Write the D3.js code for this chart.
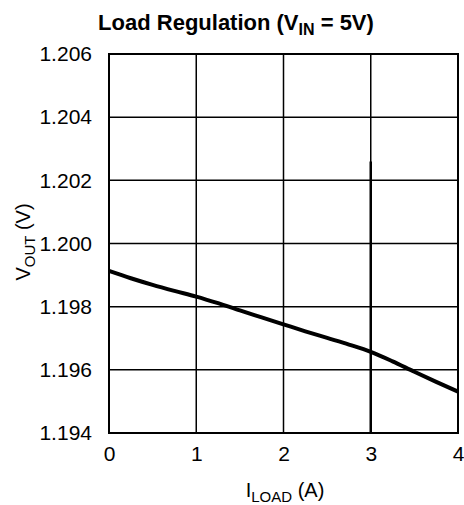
<!DOCTYPE html>
<html>
<head>
<meta charset="utf-8">
<script src="https://cdn.jsdelivr.net/npm/d3@7"></script>
<style>
  body { margin: 0; background: #fff; }
  svg text { font-family: "Liberation Sans", Arial, Helvetica, sans-serif; fill: #000; }
</style>
</head>
<body>
<script>
// Load regulation curve
var loadCurrent = [0, 0.25, 0.5, 0.75, 1, 1.25, 1.5, 1.75, 2, 2.25, 2.5, 2.75, 3, 3.25, 3.5, 3.75, 4];
var outputVoltage = [1.19913, 1.19890, 1.19869, 1.19850, 1.19832, 1.19811, 1.19788, 1.19766, 1.19744,
                     1.19722, 1.19701, 1.19680, 1.19657, 1.19627, 1.19594, 1.19562, 1.19531];
var xTicks = [0, 1, 2, 3, 4];
var yTicks = [1.194, 1.196, 1.198, 1.200, 1.202, 1.204, 1.206];

var margin = { top: 54, right: 6, bottom: 72, left: 109 },
    width = 464 - margin.left - margin.right,
    height = 505 - margin.top - margin.bottom;

var svg = d3.select("body").append("svg")
    .attr("width", 464)
    .attr("height", 505);

var g = svg.append("g")
    .attr("transform", "translate(" + margin.left + "," + margin.top + ")");

var x = d3.scaleLinear().domain([0, 4]).range([0, width]);
var y = d3.scaleLinear().domain([1.194, 1.206]).range([height, 0]);

// grid
g.append("g")
    .selectAll("line")
    .data(xTicks.slice(1, -1))
    .enter()
    .append("line")
    .attr("x1", function (d) { return x(d); })
    .attr("x2", function (d) { return x(d); })
    .attr("y1", 0)
    .attr("y2", height)
    .attr("stroke", "#000")
    .attr("stroke-width", 1.5);

g.append("g")
    .selectAll("line")
    .data(yTicks.slice(1, -1))
    .enter()
    .append("line")
    .attr("x1", 0)
    .attr("x2", width)
    .attr("y1", function (d) { return y(d); })
    .attr("y2", function (d) { return y(d); })
    .attr("stroke", "#000")
    .attr("stroke-width", 1.5);

// the 3A gridline is drawn heavier below ~1.2026 in the original
g.append("line")
    .attr("x1", x(3)).attr("x2", x(3))
    .attr("y1", y(1.2026)).attr("y2", height)
    .attr("stroke", "#000")
    .attr("stroke-width", 2.5);

// frame
g.append("rect")
    .attr("width", width)
    .attr("height", height)
    .attr("fill", "none")
    .attr("stroke", "#000")
    .attr("stroke-width", 2);

// axes (labels only, frame is drawn above)
var xAxis = g.append("g")
    .attr("transform", "translate(0," + height + ")")
    .call(d3.axisBottom(x).tickValues(xTicks).tickSize(0).tickPadding(13).tickFormat(d3.format("d")));
xAxis.select(".domain").remove();
xAxis.selectAll("text").style("font-size", "21px");

var yAxis = g.append("g")
    .call(d3.axisLeft(y).tickValues(yTicks).tickSize(0).tickPadding(17).tickFormat(d3.format(".3f")));
yAxis.select(".domain").remove();
yAxis.selectAll("text").style("font-size", "21px");

// curve
var line = d3.line()
    .x(function (d, i) { return x(loadCurrent[i]); })
    .y(function (d) { return y(d); })
    .curve(d3.curveMonotoneX);

g.append("path")
    .datum(outputVoltage)
    .attr("fill", "none")
    .attr("stroke", "#000")
    .attr("stroke-width", 4)
    .attr("d", line);

// title
var title = svg.append("text")
    .attr("x", 236)
    .attr("y", 30)
    .attr("text-anchor", "middle")
    .style("font-size", "22px")
    .style("font-weight", "bold");
title.append("tspan").text("Load Regulation (V");
title.append("tspan").attr("dy", 5).style("font-size", "16px").text("IN");
title.append("tspan").attr("dy", -5).text(" = 5V)");

// x label
var xLabel = svg.append("text")
    .attr("x", 285)
    .attr("y", 497)
    .attr("text-anchor", "middle")
    .style("font-size", "20px");
xLabel.append("tspan").text("I");
xLabel.append("tspan").attr("dy", 5).style("font-size", "15px").text("LOAD");
xLabel.append("tspan").attr("dy", -5).text(" (A)");

// y label
var yLabel = svg.append("text")
    .attr("transform", "translate(30,242) rotate(-90)")
    .attr("text-anchor", "middle")
    .style("font-size", "20px");
yLabel.append("tspan").text("V");
yLabel.append("tspan").attr("dy", 5).style("font-size", "15px").text("OUT");
yLabel.append("tspan").attr("dy", -5).text(" (V)");
</script>
</body>
</html>
